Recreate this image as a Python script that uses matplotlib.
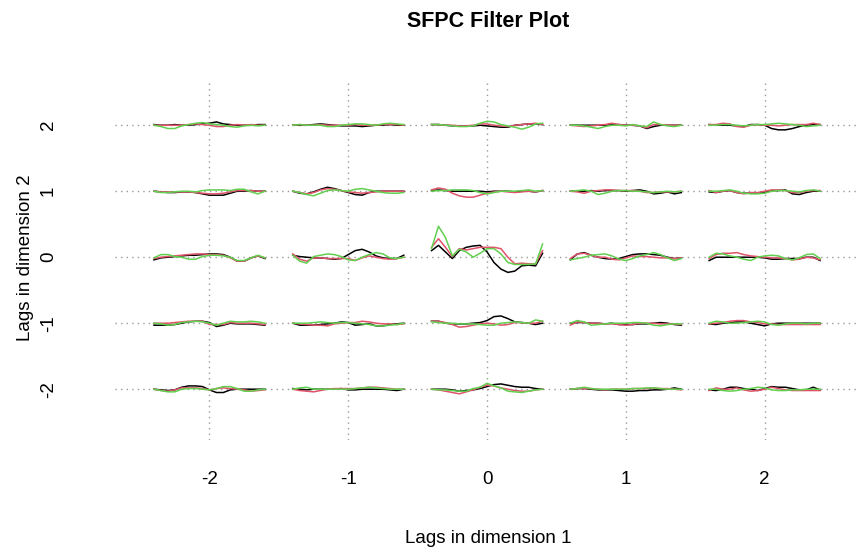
import numpy as np
import matplotlib
matplotlib.use("Agg")
import matplotlib.pyplot as plt

plt.rcParams['font.family'] = ['Liberation Sans', 'DejaVu Sans']

lags1 = [-2, -1, 0, 1, 2]
lags2 = [2, 1, 0, -1, -2]
# offsets along each small filter curve, relative to its lag in dimension 1
offsets = np.linspace(-0.4, 0.4, 17)

# filter values in hundredths; one row per cell,
# lag2 from 2 down to -2, and within that lag1 from -2 to 2
black_vals = [
    [1, 0, 0, 1, 0, 0, 1, 2, 3, 5, 2, 1, 0, 0, 0, 1, 1],
    [0, 0, 0, 1, 2, 1, 0, -1, -1, -1, -2, -1, 0, 0, 1, 0, 0],
    [1, 1, 0, -1, -1, -1, -1, 0, -1, -2, -3, -3, 0, 1, 2, 2, 1],
    [0, 0, 0, 0, 0, 0, 1, 1, 0, 0, -1, -5, -2, 0, 0, 0, 0],
    [1, 0, 0, 0, -1, -2, 1, 1, 0, -5, -7, -7, -5, -2, 0, 1, 1],
    [0, -1, -2, -2, -1, -1, -2, -4, -6, -6, -6, -3, 0, 0, 1, 0, 0],
    [0, -3, -4, -1, 3, 6, 4, 1, -2, -5, -6, -2, 0, 0, 0, 0, 0],
    [1, 2, 1, 0, 0, 0, 0, 0, -1, 0, 0, 0, -1, 0, 0, -1, 1],
    [0, 0, 0, 1, 0, 1, 1, 1, 0, 1, 2, 0, -4, -3, -1, -4, -2],
    [-1, -2, 0, 1, -2, -3, -3, -3, -2, 1, 1, 2, -4, -5, -2, 0, 0],
    [-4, -1, 0, 1, 2, 3, 3, 4, 5, 5, 4, 0, -6, -6, -1, 2, -2],
    [3, 1, 0, -1, -1, -2, -3, -2, 4, 10, 12, 8, 2, -1, -2, -2, 3],
    [10, 18, 8, -2, 10, 15, 17, 18, 8, -8, -18, -23, -21, -13, -12, -13, 6],
    [-4, 5, 7, 3, 0, -2, -3, -2, 1, 4, 5, 5, 4, 3, 0, -2, -1],
    [-5, 0, 0, 0, 0, 0, 0, 0, -1, -3, -3, -2, -2, -2, 0, 0, -5],
    [-3, -3, -3, -2, 0, 2, 3, 3, 1, -5, -3, 0, -1, -1, -1, -2, -3],
    [0, -3, -3, -3, -2, -1, 0, 2, 1, -3, -2, -1, -4, -4, -2, -1, 0],
    [3, 3, 0, -1, -1, -1, 0, 1, 4, 10, 11, 7, 2, 1, 0, -2, 0],
    [0, 1, 1, 0, 0, -1, 0, -2, -2, -2, -1, -1, 0, 1, 0, -2, -3],
    [-1, -2, 0, 1, 2, 2, 0, -2, -4, -1, 0, 0, 0, 0, 0, 0, 0],
    [0, -1, -2, -1, 3, 5, 5, 4, -1, -5, -5, -1, 0, 0, 0, 0, 0],
    [1, 0, -1, 0, 0, 0, 0, 1, -1, -1, 0, 0, 0, 0, -1, -2, 0],
    [0, 0, 0, -1, -3, -2, -1, 1, 4, 7, 8, 6, 4, 3, 3, 1, 0],
    [0, 1, 1, 0, -1, -1, -1, -2, -3, -3, -2, -2, -1, -1, 0, 2, 0],
    [-1, -2, 0, 3, 3, 1, 0, -2, 1, 4, 3, 3, 1, -1, -1, 3, -1],
]

red_vals = [
    [0, 0, 0, 0, 0, 1, 2, 1, 0, -2, -2, 0, 1, 0, 1, 0, 0],
    [0, 1, 0, 0, 1, 0, 0, 0, 0, 1, 0, 0, 0, 1, 1, 1, 0],
    [1, 1, 0, 0, -1, -1, 0, 2, 2, 0, -1, -2, 0, 1, 2, 3, 1],
    [0, -1, -2, -1, 0, 1, 3, 1, 0, 0, -1, -4, 1, 1, 0, 0, 0],
    [1, 1, 3, 2, -2, -3, 0, 1, 0, 0, -1, 0, 1, 1, 1, 3, 1],
    [0, -1, -1, -1, -1, -1, -2, -3, -4, -4, -3, -1, 1, 1, 1, 0, 0],
    [0, -2, -4, -2, 2, 4, 3, 1, -1, -2, -3, -2, -1, 0, 0, 0, 0],
    [2, 5, 3, -3, -7, -9, -9, -6, -3, -1, 0, -1, -2, -1, 0, -1, 1],
    [0, -1, -3, 0, 1, 2, 2, 1, 1, 1, 0, -2, -2, -1, -1, -1, 0],
    [1, -2, 0, 1, -2, -4, -2, -2, 0, 2, 2, 1, -2, -2, 0, 1, 1],
    [-2, 0, 1, 2, 3, 4, 5, 5, 4, 4, 3, -1, -6, -6, -1, 2, -1],
    [5, -3, -6, -1, -1, -2, -2, -2, -2, -5, -1, 2, 0, -2, -3, -2, 0],
    [15, 28, 15, 1, 13, 11, 13, 15, 15, 15, 13, 0, -10, -9, -10, -10, 10],
    [-2, 5, 6, 3, 0, 0, -3, -4, -1, 2, 1, 1, 0, -1, -1, -2, -1],
    [-2, 4, 6, 6, 7, 4, 2, 1, 0, -1, -1, -2, -4, -3, 0, -1, -4],
    [0, 0, 0, 1, 2, 3, 3, 3, -2, -2, -2, 1, 0, 0, 0, -1, -2],
    [0, -1, -2, -3, -3, -4, -1, 0, 1, 1, 3, 2, 0, -1, -1, -2, -1],
    [3, 3, 1, -2, -6, -5, -3, -1, 0, -1, -3, -2, 1, 1, 0, 0, 3],
    [-3, 2, 1, 0, 0, -1, -1, -2, -3, -2, 0, 0, 0, -1, -1, -1, -2],
    [-1, 0, 1, 3, 4, 4, 2, 1, -1, -1, -2, -2, -2, -2, -2, -2, -2],
    [0, -2, -3, -1, 2, 2, 2, 1, -1, 1, 2, 1, 0, -1, -3, -2, -1],
    [0, -2, -3, -4, -2, 0, 1, 1, 1, 1, 2, 3, 3, 2, 1, 0, 0],
    [0, -1, -3, -5, -7, -4, -1, 3, 6, 5, 2, 0, -2, -3, -3, -1, 0],
    [0, 1, 1, 1, 0, -1, 0, 0, 0, 1, 1, 1, 2, 1, 1, 0, -1],
    [-2, 2, 0, 0, 2, -1, -3, -2, 0, 3, 1, -1, -2, -2, -2, -2, -2],
]

green_vals = [
    [0, -2, -5, -5, -1, 1, 3, 4, 2, 1, 0, -2, -3, -1, 0, -1, 0],
    [0, 1, 0, 0, 0, -2, -2, 0, 1, 2, 2, 1, 0, 2, 3, 2, 1],
    [1, 1, 0, -1, -2, -2, -1, 3, 6, 5, 1, -1, -3, -6, -3, 2, 3],
    [0, 0, -1, -3, -5, -2, 0, 0, -1, 1, -1, -2, 5, 1, -1, -2, 0],
    [0, 0, 1, 1, 0, -1, 0, 1, 1, 2, 3, 2, 1, 0, -2, -1, 0],
    [0, -2, -2, -1, 0, 0, -1, 1, 2, 2, 2, 1, 3, 3, -1, -4, 0],
    [0, -2, -5, -7, -3, 1, 2, 1, 0, 3, 4, 2, 0, -2, -3, -3, -2],
    [0, 1, 1, 2, 2, 2, 1, -2, -4, -2, 0, 0, 0, 1, 2, 0, 1],
    [0, 1, 2, 0, -5, -3, 0, 1, 1, 0, 0, -1, -2, -1, 0, -1, 0],
    [0, 0, 1, 2, 0, -3, -4, -4, -3, 0, 1, 1, 0, -1, 1, 2, 0],
    [-1, 4, 4, 1, 0, -3, -3, 1, 3, 3, 2, 0, -5, -5, -1, 3, -1],
    [3, -6, -9, 1, 3, 5, 4, 1, -4, -5, 0, 4, 7, 5, -1, -2, 0],
    [13, 47, 30, 2, 12, 8, 0, 6, 13, 13, 5, -8, -11, -11, -11, -10, 20],
    [-4, -2, 0, 3, 4, 5, 2, -3, -5, -2, 2, 4, 7, 4, -1, -5, -2],
    [0, 6, 5, 2, 0, -3, -5, 0, 2, 3, 2, -2, -4, -1, 4, 5, -2],
    [0, -1, -3, -2, 1, 2, 3, 2, 0, -3, 0, 3, 2, 2, 3, 2, 0],
    [0, 0, 0, 1, 2, 1, 0, 1, 1, 0, -1, -2, -4, -4, -3, -2, 0],
    [2, 1, 0, 0, -1, -1, -1, -2, -3, -3, 0, 1, 2, 1, 0, 5, 3],
    [0, 4, 2, -3, -2, -1, 0, 0, 0, 1, 1, 0, -3, -4, -2, -1, -1],
    [0, 3, 2, 0, 0, 1, 2, 3, 2, -2, -3, -1, 0, 0, -1, 0, 0],
    [0, -2, -4, -4, 0, 1, 1, 0, -1, 1, 4, 4, 1, -3, -3, -1, 0],
    [0, 2, 3, 0, 0, 0, 0, 0, 0, 1, 2, 3, 2, 1, 0, 0, 0],
    [0, -1, -1, -2, -3, -3, 1, 3, 9, 5, 2, -3, -4, -5, -3, -1, 0],
    [0, 1, 3, 1, 0, 0, 0, 0, 0, 1, 1, 2, 2, 1, 0, 0, 0],
    [0, 0, -2, -3, -2, 0, 1, 3, 2, -1, -2, -2, -1, -1, 0, 0, 0],
]

series = [(black_vals, "black"), (red_vals, "#DF536B"), (green_vals, "#61D04F")]

fig = plt.figure(figsize=(8.59, 5.57), dpi=100)
ax = fig.add_axes([0.134, 0.21, 0.866, 0.641])

ax.grid(True, color="#999999", linestyle=(0, (1, 3)), linewidth=1)
ax.set_axisbelow(True)

k = 0
for l2 in lags2:
    for l1 in lags1:
        for vals, col in series:
            ax.plot(l1 + offsets, l2 + np.array(vals[k]) / 100.0,
                    color=col, linewidth=1.1)
        k += 1

ax.set_xlim(-2.68, 2.68)
ax.set_ylim(-2.77, 2.64)
ax.set_xticks(lags1)
ax.set_yticks(lags2)
ax.set_xticklabels([str(v) for v in lags1])
ax.set_yticklabels([str(v) for v in lags2], rotation=90, va="center")
ax.tick_params(axis="x", length=0, pad=22, labelsize=13.5)
ax.tick_params(axis="y", length=0, pad=42, labelsize=13.5)
for s in ax.spines.values():
    s.set_visible(False)

# axis titles and main title placed like R's outer margin text
fig.text(0.568, 0.034, "Lags in dimension 1", fontsize=13.5,
         ha="center", va="center")
fig.text(0.030, 0.538, "Lags in dimension 2", fontsize=13.5,
         ha="center", va="center", rotation=90)
fig.text(0.568, 0.962, "SFPC Filter Plot", fontsize=15.5,
         fontweight="bold", ha="center", va="center")

fig.savefig("out.png", dpi=100)
